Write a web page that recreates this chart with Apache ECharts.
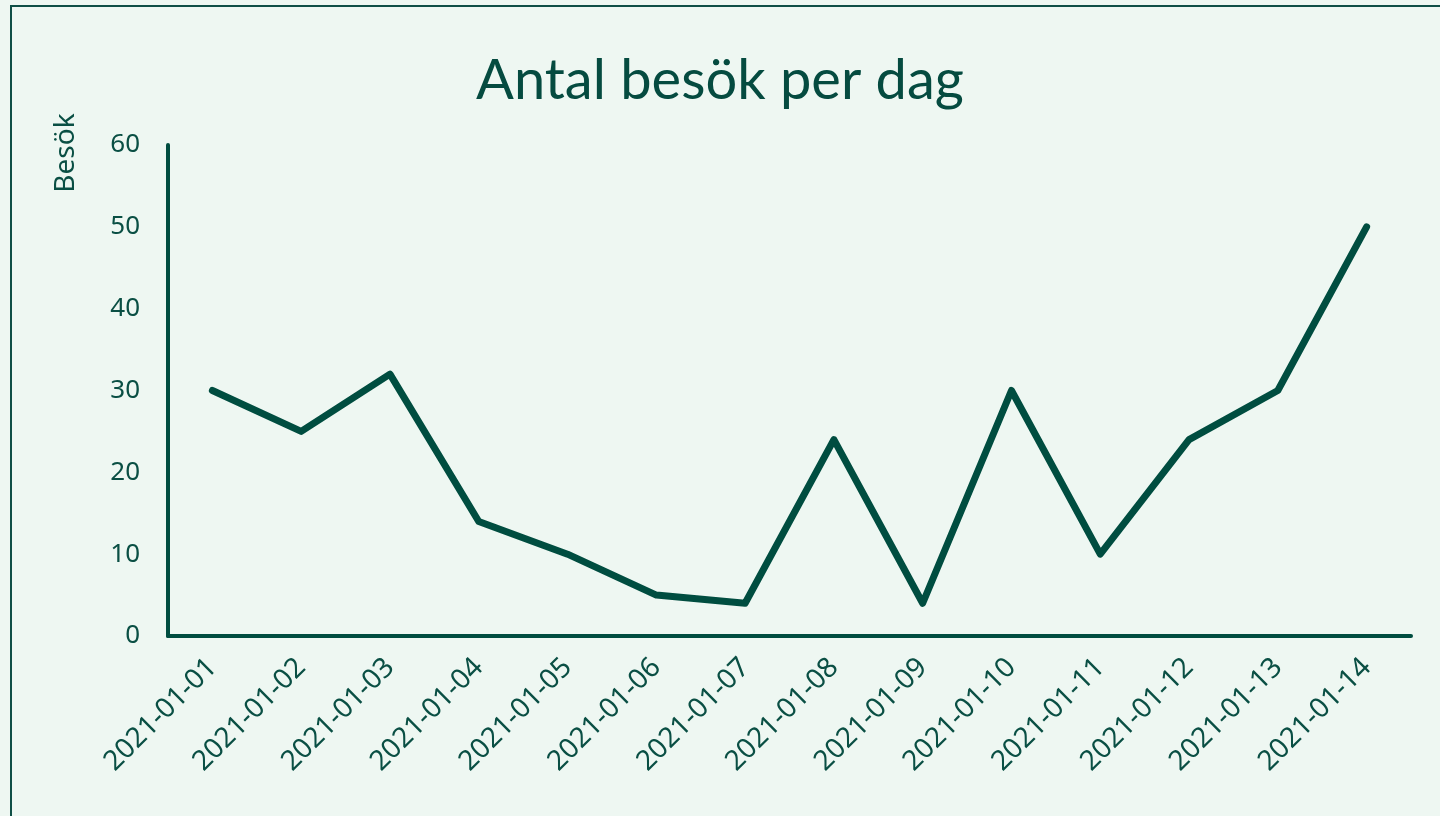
<!DOCTYPE html>
<html>
<head>
<meta charset="utf-8">
<script src="https://cdn.jsdelivr.net/npm/echarts@6/dist/echarts.min.js"></script>
<style>
  html, body { margin: 0; padding: 0; background: #eef7f2; }
  #chart { width: 1440px; height: 816px; }
</style>
</head>
<body>
<div id="chart"></div>
<script>
// data
var dagar = ['2021-01-01', '2021-01-02', '2021-01-03', '2021-01-04', '2021-01-05',
    '2021-01-06', '2021-01-07', '2021-01-08', '2021-01-09', '2021-01-10',
    '2021-01-11', '2021-01-12', '2021-01-13', '2021-01-14'];
var besok = [30, 25, 32, 14, 10, 5, 4, 24, 4, 30, 10, 24, 30, 50];

var morkGron = '#004d40';
var textGron = '#0a4f44';
var typsnitt = 'Noto Sans';

var myChart = echarts.init(document.getElementById('chart'));
var option = {
    backgroundColor: '#eef7f2',
    animation: false,
    title: {
        text: 'Antal besök per dag',
        left: 'center',
        top: 48,
        textStyle: {
            color: '#054b40',
            fontFamily: 'Lato',
            fontWeight: 'normal',
            fontSize: 56
        }
    },
    graphic: [
        {
            type: 'rect',
            shape: { x: 11, y: 6, width: 1600, height: 1000 },
            style: { fill: 'none', stroke: '#0f4f46', lineWidth: 2 },
            silent: true
        },
        {
            type: 'text',
            x: 66,
            y: 153,
            rotation: Math.PI / 2,
            style: {
                text: 'Besök',
                fill: textGron,
                fontFamily: typsnitt,
                fontSize: 28,
                align: 'center',
                verticalAlign: 'middle'
            }
        }
    ],
    grid: {
        left: 168,
        right: 29,
        top: 145,
        bottom: 180
    },
    xAxis: {
        type: 'category',
        data: dagar,
        boundaryGap: true,
        axisLine: { lineStyle: { color: morkGron, width: 4 } },
        axisTick: { show: false },
        axisLabel: {
            rotate: 45,
            margin: 27,
            color: textGron,
            fontFamily: typsnitt,
            fontSize: 28
        }
    },
    yAxis: {
        type: 'value',
        min: 0,
        max: 60,
        interval: 10,
        splitLine: { show: false },
        axisLine: { show: true, lineStyle: { color: morkGron, width: 4 } },
        axisTick: { show: false },
        axisLabel: {
            margin: 28,
            color: textGron,
            fontFamily: typsnitt,
            fontSize: 26
        }
    },
    series: [{
        name: 'Besök',
        type: 'line',
        data: besok,
        symbol: 'none',
        lineStyle: { color: morkGron, width: 7, join: 'round', cap: 'round' }
    }]
};
myChart.setOption(option);
</script>
</body>
</html>
